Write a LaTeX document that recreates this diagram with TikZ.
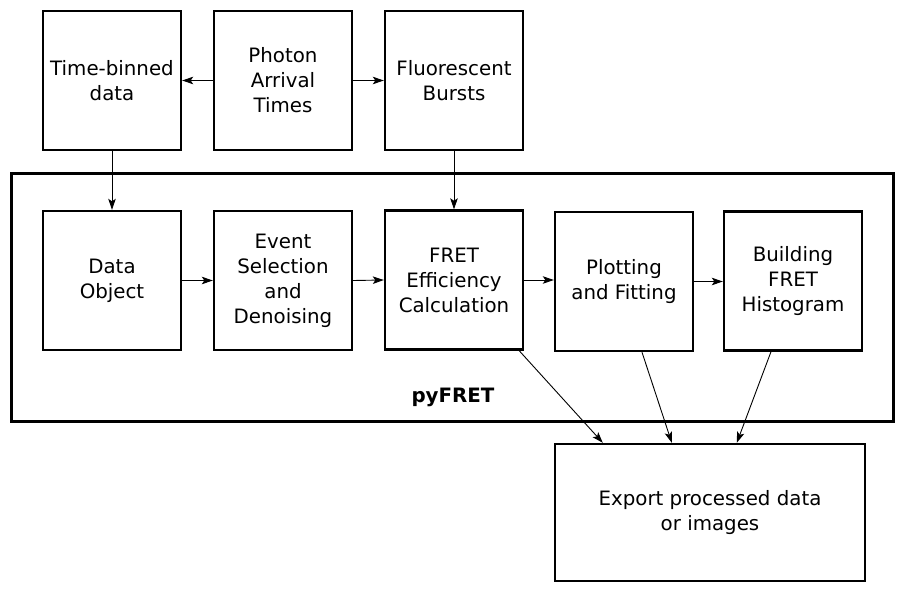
\documentclass[tikz,border=0pt]{standalone}
\usepackage{fontspec}
\setmainfont{DejaVu Sans}
\usepackage{tikz}
\usetikzlibrary{arrows, arrows.meta, positioning}
\tikzset{>={Stealth[length=11pt, width=7.5pt, inset=2.5pt]}}
\tikzset{
  stage/.style={draw, line width=2.4pt, minimum width=138pt, minimum height=139pt, inner sep=0pt, align=center},
  link/.style={-{Stealth[length=11pt, width=7.5pt, inset=2.5pt]}, line width=0.9pt}
}

\begin{document}
\begin{tikzpicture}[x=1pt, y=-1pt, font=\fontsize{19.8}{25}\selectfont]
		\useasboundingbox (0,0) rectangle (906,594);
		\node[draw, line width=3pt, minimum width=882pt, minimum height=248pt] (Frame) at (452,297) {};
		\node[font=\fontsize{19.8}{25}\selectfont\bfseries] (Name) at (453,397) {pyFRET};
		% top row
		\node[stage] (T) at (112,80.5) {Time-binned\\data};
		\node[stage] (P) at (283,80.5) {Photon\\Arrival\\Times};
		\node[stage] (F) at (454,80.5) {Fluorescent\\Bursts};
		% inside pyFRET
		\node[stage] (D) at (112,280.5) {Data\\Object};
		\node[stage] (E) at (283,280.5) {Event\\Selection\\and\\Denoising};
		\node[stage] (R) at (454,280) {FRET\\Efficiency\\Calculation};
		\node[stage] (L) at (624,281.5) {Plotting\\and Fitting};
		\node[stage] (H) at (793,281) {Building\\FRET\\Histogram};
		% output
		\node[stage, minimum width=310pt, minimum height=137pt] (X) at (710,512.5) {Export processed data\\or images};
		\draw [link](P.west) -- (T.east);  \draw [link](P.east) -- (F.west);
		\draw [link](T.south) -- (D.north);  \draw [link](F.south) -- (R.north);
		\draw [link](D.east) -- (E.west);  \draw [link](E.east) -- (R.west);
		\draw [link](R.east) -- (R.east -| L.west);  \draw [link](L.east) -- (L.east -| H.west);
		\draw [link]([xshift=-5pt]R.south east) -- ([xshift=49pt]X.north west);
		\draw [link]([xshift=18pt]L.south) -- ([xshift=118pt]X.north west);
		\draw [link]([xshift=-22pt]H.south) -- ([xshift=183pt]X.north west);
\end{tikzpicture}
\end{document}
